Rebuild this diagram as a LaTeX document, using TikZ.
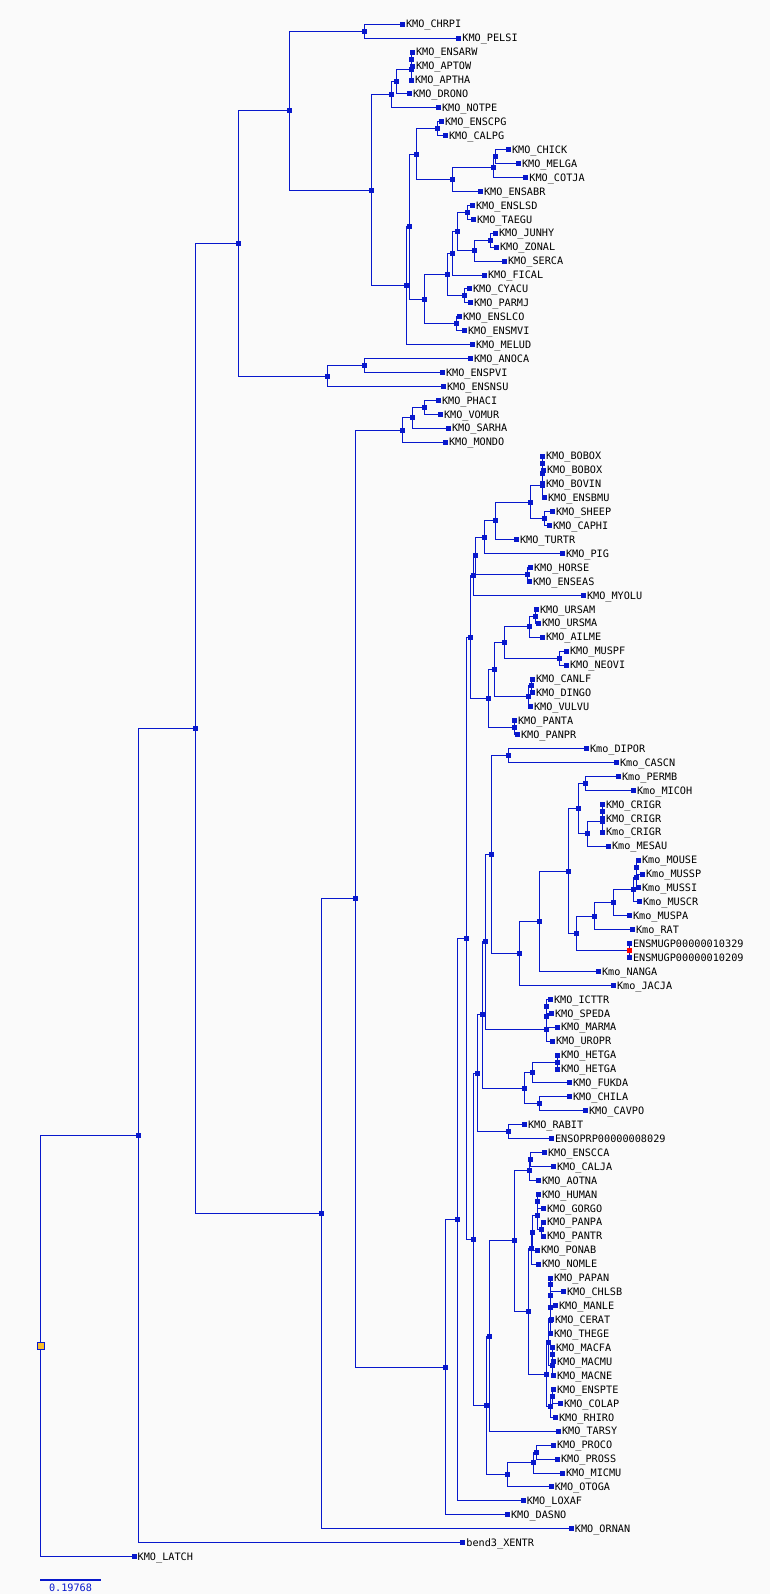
\documentclass[tikz,border=0pt]{standalone}
\usepackage{fontspec}
\newfontfamily\treefont{DejaVu Sans Mono}
\usepackage{xcolor}
\usetikzlibrary{calc}
\definecolor{treeblue}{RGB}{8,24,204}
\definecolor{paper}{RGB}{250,250,250}
\definecolor{rootfill}{RGB}{250,190,40}
\tikzset{
      branch/.style = {treeblue, line width=1pt},
      inner/.style  = {fill=treeblue, minimum size=5pt, inner sep=0pt, outer sep=0pt},
      taxon/.style  = {font=\treefont\fontsize{10.2}{10}\selectfont, text height=7.4pt, text depth=0pt, inner sep=1pt},
      leaf/.style   = {inner, label distance=3pt, label={[taxon]right:#1}},
    }
% join two children: [style]{name}{x}{child}{child}
\newcommand{\joinnode}[5][]{%
  \path let \p1 = ($(#4)!0.5!(#5)$) in node[inner,#1] (#2) at (#3pt,\y1) {};
  \draw[branch] (#2) |- (#4);
  \draw[branch] (#2) |- (#5);
}

\begin{document}
\begin{tikzpicture}[x=1pt, y=-1pt]
    \fill[paper] (0,0) rectangle (770,1594);
    \useasboundingbox (0,0) rectangle (770,1594);

    \foreach \nm/\xx/\txt [count=\i from 0] in {
      chrpi/402.3/KMO\_CHRPI, pelsi/458.7/KMO\_PELSI, ensarw/412.3/KMO\_ENSARW,
      aptow/412.3/KMO\_APTOW, aptha/411.3/KMO\_APTHA, drono/409.3/KMO\_DRONO,
      notpe/438.3/KMO\_NOTPE, enscpg/441.3/KMO\_ENSCPG, calpg/445.3/KMO\_CALPG,
      chick/508.3/KMO\_CHICK, melga/518.3/KMO\_MELGA, cotja/525.7/KMO\_COTJA,
      ensabr/480.3/KMO\_ENSABR, enslsd/472.3/KMO\_ENSLSD, taegu/473.3/KMO\_TAEGU,
      junhy/495.3/KMO\_JUNHY, zonal/496.3/KMO\_ZONAL, serca/504.3/KMO\_SERCA,
      fical/484.3/KMO\_FICAL, cyacu/469.3/KMO\_CYACU, parmj/470.3/KMO\_PARMJ,
      enslco/459.3/KMO\_ENSLCO, ensmvi/464.3/KMO\_ENSMVI, melud/472.3/KMO\_MELUD,
      anoca/470.3/KMO\_ANOCA, enspvi/442.3/KMO\_ENSPVI, ensnsu/443.3/KMO\_ENSNSU,
      phaci/438.3/KMO\_PHACI, vomur/440.3/KMO\_VOMUR, sarha/448.3/KMO\_SARHA,
      mondo/445.3/KMO\_MONDO, boboxa/542.3/KMO\_BOBOX, boboxb/543.3/KMO\_BOBOX,
      bovin/542.3/KMO\_BOVIN, ensbmu/544.3/KMO\_ENSBMU, sheep/552.3/KMO\_SHEEP,
      caphi/549.3/KMO\_CAPHI, turtr/516.3/KMO\_TURTR, pig/562.3/KMO\_PIG,
      horse/530.3/KMO\_HORSE, enseas/529.3/KMO\_ENSEAS, myolu/583.3/KMO\_MYOLU,
      ursam/536.3/KMO\_URSAM, ursma/538.3/KMO\_URSMA, ailme/542.3/KMO\_AILME,
      muspf/566.3/KMO\_MUSPF, neovi/566.3/KMO\_NEOVI, canlf/532.3/KMO\_CANLF,
      dingo/532.3/KMO\_DINGO, vulvu/530.3/KMO\_VULVU, panta/514.3/KMO\_PANTA,
      panpr/517.3/KMO\_PANPR, dipor/586.3/Kmo\_DIPOR, cascn/616.3/Kmo\_CASCN,
      permb/618.3/Kmo\_PERMB, micoh/633.3/Kmo\_MICOH, crigra/602.3/KMO\_CRIGR,
      crigrb/602.3/KMO\_CRIGR, crigrc/602.3/Kmo\_CRIGR, mesau/608.3/Kmo\_MESAU,
      mouse/638.3/Kmo\_MOUSE, mussp/642.3/Kmo\_MUSSP, mussi/638.3/Kmo\_MUSSI,
      muscr/639.3/Kmo\_MUSCR, muspa/629.3/Kmo\_MUSPA, rat/632.3/Kmo\_RAT,
      ensmuga/629.3/ENSMUGP00000010329, ensmugb/629.3/ENSMUGP00000010209,
      nanga/598.3/Kmo\_NANGA, jacja/613.3/Kmo\_JACJA, icttr/550.3/KMO\_ICTTR,
      speda/551.3/KMO\_SPEDA, marma/557.3/KMO\_MARMA, uropr/552.3/KMO\_UROPR,
      hetgaa/557.3/KMO\_HETGA, hetgab/557.3/KMO\_HETGA, fukda/569.3/KMO\_FUKDA,
      chila/569.3/KMO\_CHILA, cavpo/585.3/KMO\_CAVPO, rabit/524.3/KMO\_RABIT,
      ensoprp/551.3/ENSOPRP00000008029, enscca/544.3/KMO\_ENSCCA, calja/553.3/KMO\_CALJA,
      aotna/538.3/KMO\_AOTNA, human/538.3/KMO\_HUMAN, gorgo/543.3/KMO\_GORGO,
      panpa/543.3/KMO\_PANPA, pantr/543.3/KMO\_PANTR, ponab/537.3/KMO\_PONAB,
      nomle/538.3/KMO\_NOMLE, papan/550.3/KMO\_PAPAN, chlsb/563.3/KMO\_CHLSB,
      manle/555.3/KMO\_MANLE, cerat/551.3/KMO\_CERAT, thege/550.3/KMO\_THEGE,
      macfa/552.3/KMO\_MACFA, macmu/553.3/KMO\_MACMU, macne/553.3/KMO\_MACNE,
      enspte/553.3/KMO\_ENSPTE, colap/560.3/KMO\_COLAP, rhiro/555.3/KMO\_RHIRO,
      tarsy/558.3/KMO\_TARSY, proco/553.3/KMO\_PROCO, pross/557.3/KMO\_PROSS,
      micmu/562.4/KMO\_MICMU, otoga/551.1/KMO\_OTOGA, loxaf/523.1/KMO\_LOXAF,
      dasno/507.4/KMO\_DASNO, ornan/571.2/KMO\_ORNAN, xentr/462.7/bend3\_XENTR,
      latch/134/KMO\_LATCH}
      \node[leaf=\txt] (\nm) at (\xx,{24.3+13.93*\i}) {};

    % birds and reptiles
    \joinnode{nchrpel}{364.3}{chrpi}{pelsi}
    \joinnode{naptA}{411.3}{ensarw}{aptow}
    \joinnode{naptB}{411.3}{naptA}{aptha}
    \joinnode{nratA}{396.3}{naptB}{drono}
    \joinnode{nratB}{391.3}{nratA}{notpe}
    \joinnode{ncalp}{437.3}{enscpg}{calpg}
    \joinnode{nchick}{495.3}{chick}{melga}
    \joinnode{ngall}{493.3}{nchick}{cotja}
    \joinnode{ngallB}{452.3}{ngall}{ensabr}
    \joinnode{nneoA}{416.3}{ncalp}{ngallB}
    \joinnode{ntaeg}{467.3}{enslsd}{taegu}
    \joinnode{njunz}{490.3}{junhy}{zonal}
    \joinnode{njunzs}{474.3}{njunz}{serca}
    \joinnode{npassA}{457.3}{ntaeg}{njunzs}
    \joinnode{npassB}{452.3}{npassA}{fical}
    \joinnode{ncyac}{464.3}{cyacu}{parmj}
    \joinnode{npassC}{447.3}{npassB}{ncyac}
    \joinnode{nenslm}{456.3}{enslco}{ensmvi}
    \joinnode{npassD}{424.3}{npassC}{nenslm}
    \joinnode{nneoB}{409.3}{nneoA}{npassD}
    \joinnode{nneoC}{406.7}{nneoB}{melud}
    \joinnode{nneoD}{371.3}{nratB}{nneoC}
    \joinnode{nbird}{289.3}{nchrpel}{nneoD}
    \joinnode{nanoca}{364.3}{anoca}{enspvi}
    \joinnode{nlepid}{327.3}{nanoca}{ensnsu}
    \joinnode{nsaur}{238}{nbird}{nlepid}

    % marsupials
    \joinnode{nphvo}{424.3}{phaci}{vomur}
    \joinnode{nphvs}{412.3}{nphvo}{sarha}
    \joinnode{nmars}{402.3}{nphvs}{mondo}

    % laurasiatheria
    \joinnode{nbobox}{542.3}{boboxa}{boboxb}
    \joinnode{nbovA}{542.3}{nbobox}{bovin}
    \joinnode{nbovB}{542.3}{nbovA}{ensbmu}
    \joinnode{nshcap}{544.3}{sheep}{caphi}
    \joinnode{nbovC}{530.3}{nbovB}{nshcap}
    \joinnode{nceta}{495.3}{nbovC}{turtr}
    \joinnode{ncetB}{484.3}{nceta}{pig}
    \joinnode{nhorse}{527.3}{horse}{enseas}
    \joinnode{nlaurA}{475.3}{ncetB}{nhorse}
    \joinnode{nlaurB}{473.3}{nlaurA}{myolu}
    \joinnode{nurs}{535.3}{ursam}{ursma}
    \joinnode{nursA}{529.3}{nurs}{ailme}
    \joinnode{nmusneo}{559.3}{muspf}{neovi}
    \joinnode{narct}{504.3}{nursA}{nmusneo}
    \joinnode{ncanA}{531.3}{canlf}{dingo}
    \joinnode{ncanB}{528.3}{ncanA}{vulvu}
    \joinnode{ncarn}{494.3}{narct}{ncanB}
    \joinnode{npant}{514.3}{panta}{panpr}
    \joinnode{nferae}{488.3}{ncarn}{npant}
    \joinnode{nlaurC}{470.3}{nlaurB}{nferae}

    % glires
    \joinnode{ndipc}{508.3}{dipor}{cascn}
    \joinnode{npermi}{585.3}{permb}{micoh}
    \joinnode{ncriA}{602.3}{crigra}{crigrb}
    \joinnode{ncriB}{602.3}{ncriA}{crigrc}
    \joinnode{ncriC}{587.3}{ncriB}{mesau}
    \joinnode{ncric}{578.3}{npermi}{ncriC}
    \joinnode{nmusA}{636.3}{mouse}{mussp}
    \joinnode{nmusB}{636.3}{nmusA}{mussi}
    \joinnode{nmusC}{633.3}{nmusB}{muscr}
    \joinnode{nmusD}{613.3}{nmusC}{muspa}
    \joinnode{nmusE}{594.3}{nmusD}{rat}
    \joinnode[fill=red]{nensmug}{629.3}{ensmuga}{ensmugb}
    \joinnode{nmurA}{576.3}{nmusE}{nensmug}
    \joinnode{nmurB}{568.3}{ncric}{nmurA}
    \joinnode{nmurC}{539.3}{nmurB}{nanga}
    \joinnode{nmurD}{519}{nmurC}{jacja}
    \joinnode{nmyo}{491.3}{ndipc}{nmurD}
    \joinnode{nsciA}{546.3}{icttr}{speda}
    \joinnode{nsciB}{546.3}{nsciA}{marma}
    \joinnode{nsciC}{546.3}{nsciB}{uropr}
    \joinnode{nrodA}{485.3}{nmyo}{nsciC}
    \joinnode{nhet}{557.3}{hetgaa}{hetgab}
    \joinnode{nhetB}{532.3}{nhet}{fukda}
    \joinnode{nchca}{539.3}{chila}{cavpo}
    \joinnode{nhyst}{524.3}{nhetB}{nchca}
    \joinnode{nrodB}{482.3}{nrodA}{nhyst}
    \joinnode{nlago}{508.3}{rabit}{ensoprp}
    \joinnode{nglires}{477.3}{nrodB}{nlago}

    % primates
    \joinnode{nnwA}{530.3}{enscca}{calja}
    \joinnode{nnwB}{529.3}{nnwA}{aotna}
    \joinnode{nhomA}{537.3}{human}{gorgo}
    \joinnode{npanp}{541.3}{panpa}{pantr}
    \joinnode{nhomB}{537.3}{nhomA}{npanp}
    \joinnode{nhomC}{532.3}{nhomB}{ponab}
    \joinnode{nhomD}{531.3}{nhomC}{nomle}
    \joinnode{npapA}{550.3}{papan}{chlsb}
    \joinnode{npapB}{550.3}{npapA}{manle}
    \joinnode{npapC}{550.3}{npapB}{cerat}
    \joinnode{npapD}{550.3}{npapC}{thege}
    \joinnode{nmacA}{552.3}{macfa}{macmu}
    \joinnode{nmacB}{552.3}{nmacA}{macne}
    \joinnode{ncerc}{548.3}{npapD}{nmacB}
    \joinnode{ncolA}{552.3}{enspte}{colap}
    \joinnode{ncolB}{550.3}{ncolA}{rhiro}
    \joinnode{ncata}{546.3}{ncerc}{ncolB}
    \joinnode{nowm}{528.3}{nhomD}{ncata}
    \joinnode{nsimi}{514.3}{nnwB}{nowm}
    \joinnode{nhapl}{489.3}{nsimi}{tarsy}
    \joinnode{nproA}{536.3}{proco}{pross}
    \joinnode{nproB}{533.3}{nproA}{micmu}
    \joinnode{nstrep}{507.4}{nproB}{otoga}
    \joinnode{neuar}{486.7}{nhapl}{nstrep}

    % backbone
    \joinnode{nboreo}{473.3}{nglires}{neuar}
    \joinnode{nplac}{466.7}{nlaurC}{nboreo}
    \joinnode{natl}{457.3}{nplac}{loxaf}
    \joinnode{nxen}{445.7}{natl}{dasno}
    \joinnode{nther}{355.7}{nmars}{nxen}
    \joinnode{nmam}{321.3}{nther}{ornan}
    \joinnode{nam}{195.3}{nsaur}{nmam}
    \joinnode{ntet}{138}{nam}{xentr}
    \joinnode[fill=rootfill, draw=treeblue, minimum size=7pt]{nroot}{40.7}{ntet}{latch}

    % scale bar
    \coordinate (scaleL) at (40.3,1579.7);
    \coordinate (scaleR) at (100.7,1579.7);
    \draw[treeblue, line width=2pt] (scaleL) -- (scaleR);
    \node[taxon, treeblue, anchor=north] (scaletxt) at ($(scaleL)!0.5!(scaleR)+(0,3)$) {0.19768};
\end{tikzpicture}
\end{document}
